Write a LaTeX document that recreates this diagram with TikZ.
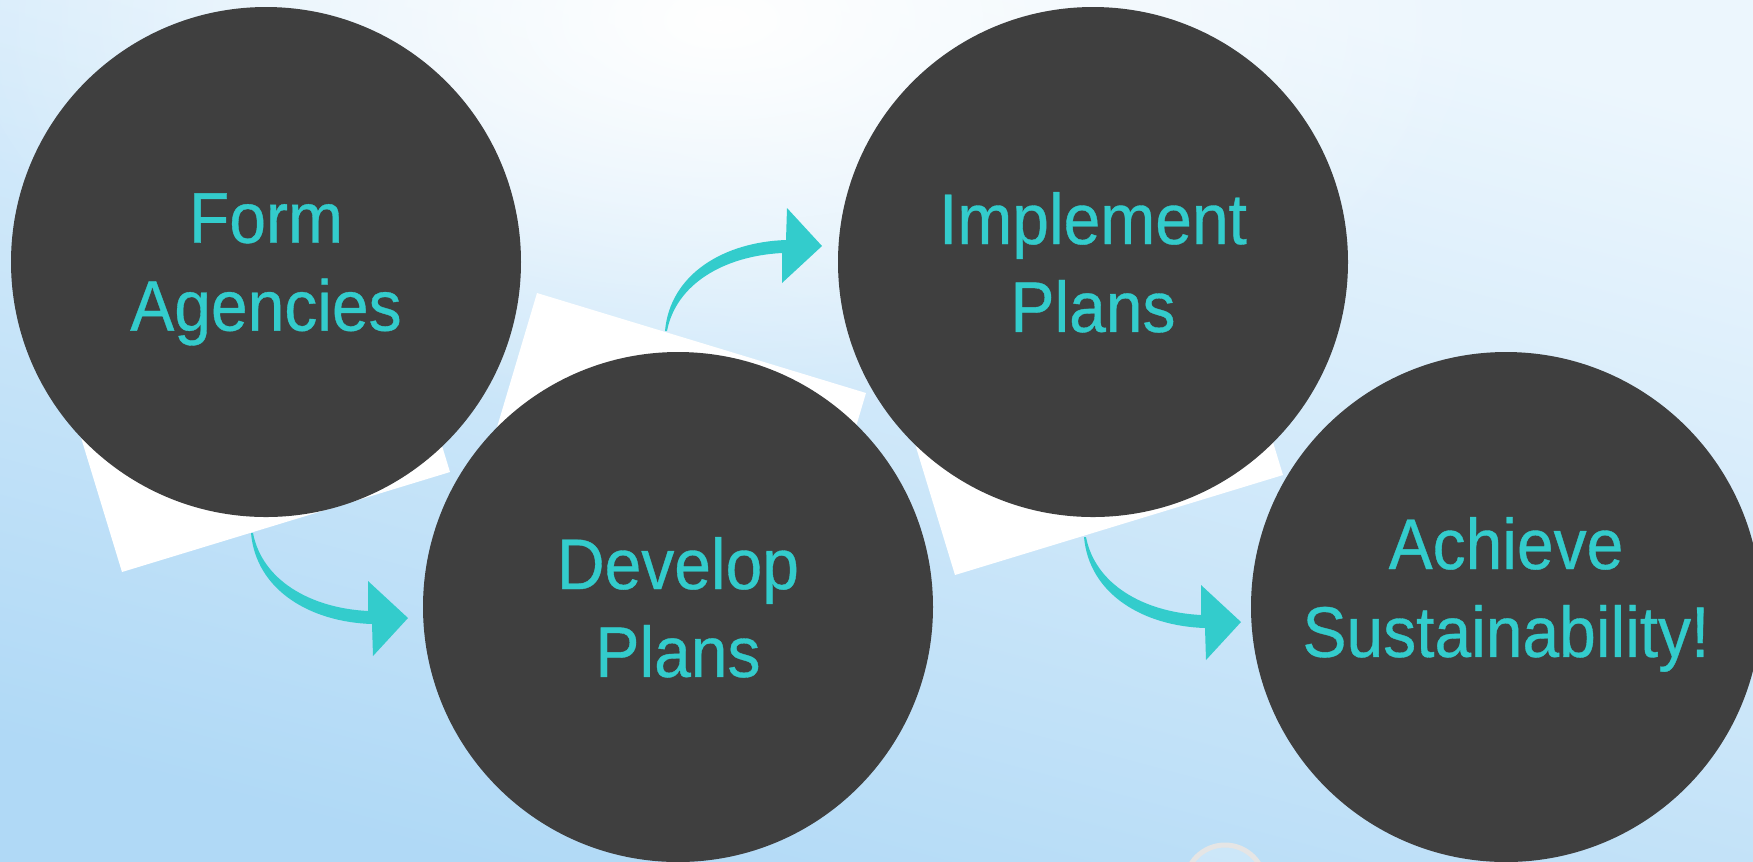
\documentclass[tikz,border=0pt]{standalone}
\usepackage{fontspec}
\setmainfont{Liberation Sans}[FakeStretch=0.92, FakeBold=0.5]
\usetikzlibrary{fadings}
\definecolor{discgray}{RGB}{63, 63, 63}
\definecolor{accent}{RGB}{51, 204, 204}
\definecolor{skytop}{RGB}{236, 246, 253}
\definecolor{skybottom}{RGB}{176, 217, 246}

\tikzfading[name=glow, inner color=transparent!0, outer color=transparent!100]

\begin{document}
\begin{tikzpicture}[x=0.1mm, y=-0.1mm,
  disc/.style={circle, fill=discgray, minimum size=51mm, inner sep=0pt,
    text=accent, align=center, text depth=0pt,
    font=\fontsize{20.4}{25}\selectfont},
  bend/.pic={
    \fill[accent] (0, 0) .. controls (9, 47) and (57, 75) .. (115, 78)
      -- (115, 48) -- (155, 85) -- (120, 123) -- (119, 91)
      .. controls (57, 89) and (3, 57) .. (-2, 0) -- cycle;
  }]
  \useasboundingbox (0, 0) rectangle (1753, 861);
  \clip (0, 0) rectangle (1753, 861);

  % background
  \shade[top color=skytop, bottom color=skybottom, shading angle=-15] (0, 0) rectangle (1753, 861);
  \fill[white, path fading=glow] (720, 20) ellipse (780 and 400);
  \fill[white, opacity=0.25] (1225, 885) circle (40);
  \draw[gray!20, line width=0.5mm] (1225, 885) circle (40);

  % white cards behind the discs
  \fill[white] (22, 244) -- (350, 144) -- (450, 472) -- (122, 572) -- cycle;
  \fill[white] (537, 293) -- (866, 393) -- (768, 722) -- (439, 622) -- cycle;
  \fill[white] (855, 247) -- (1183, 147) -- (1283, 475) -- (955, 575) -- cycle;

  % curved arrows
  \coordinate (a1) at (253, 533);
  \coordinate (a2) at (667, 331);
  \coordinate (a3) at (1086, 537);
  \pic at (a1) {bend};
  \pic[yscale=-1] at (a2) {bend};
  \pic at (a3) {bend};

  \node[disc] (form) at (266, 262) {Form\\Agencies};
  \node[disc] (develop) at (678, 607) {Develop\\Plans};
  \node[disc] (implement) at (1093, 262) {Implement\\Plans};
  \node[disc, text depth=4mm] (achieve) at (1506, 607) {Achieve\\Sustainability!};

\end{tikzpicture}
\end{document}
